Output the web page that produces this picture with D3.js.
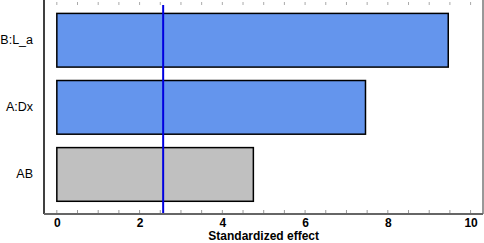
<!DOCTYPE html>
<html>
<head>
<meta charset="utf-8">
<script src="https://cdn.jsdelivr.net/npm/d3@7"></script>
<style>
  body { margin: 0; background: #fff; }
  text { font-family: Arial, "Liberation Sans", sans-serif; }
</style>
</head>
<body>
<div id="chart"></div>
<script>
// Pareto chart of standardized effects
const terms = ['B:L_a', 'A:Dx', 'AB'];
const effects = [9.46, 7.46, 4.75];
const significant = [true, true, false];
const critical = 2.57;
const xTicks = [0, 2, 4, 6, 8, 10];

const width = 484, height = 243;
const plot = {left: 44, right: 483, top: 0, bottom: 214};

const svg = d3.select('#chart')
  .append('svg')
  .attr('width', width)
  .attr('height', height);

const x = d3.scaleLinear().domain([-0.31, 10.3]).range([plot.left, plot.right]);
const y = d3.scaleBand().domain(terms).range([6.7, 208]).paddingInner(0.2).paddingOuter(0.1);

// minor/major tick marks along top and bottom
const minor = d3.range(0, 10.01, 0.5);
svg.append('g')
  .selectAll('line.bt')
  .data(minor)
  .enter()
  .append('line')
  .attr('x1', d => x(d)).attr('x2', d => x(d))
  .attr('y1', plot.bottom - 4).attr('y2', plot.bottom - 1)
  .attr('stroke', '#999').attr('stroke-width', 1);
svg.append('g')
  .selectAll('line.tt')
  .data(minor)
  .enter()
  .append('line')
  .attr('x1', d => x(d)).attr('x2', d => x(d))
  .attr('y1', 2).attr('y2', 5)
  .attr('stroke', '#aaa').attr('stroke-width', 1);

// bars
svg.append('g')
  .selectAll('rect')
  .data(terms)
  .enter()
  .append('rect')
  .attr('x', x(0))
  .attr('y', d => y(d))
  .attr('width', (d, i) => x(effects[i]) - x(0))
  .attr('height', y.bandwidth())
  .attr('fill', (d, i) => significant[i] ? '#6495ed' : '#c0c0c0')
  .attr('stroke', '#000')
  .attr('stroke-width', 1.5);

// reference line
svg.append('line')
  .attr('x1', x(critical)).attr('x2', x(critical))
  .attr('y1', 5).attr('y2', plot.bottom)
  .attr('stroke', '#0000e0').attr('stroke-width', 2);

// frame
svg.append('line')
  .attr('x1', plot.left).attr('x2', plot.left)
  .attr('y1', 0).attr('y2', plot.bottom)
  .attr('stroke', '#000').attr('stroke-width', 1.5);
svg.append('line')
  .attr('x1', plot.right).attr('x2', plot.right)
  .attr('y1', 0).attr('y2', plot.bottom)
  .attr('stroke', '#333').attr('stroke-width', 1);
svg.append('line')
  .attr('x1', plot.left).attr('x2', plot.right)
  .attr('y1', plot.bottom).attr('y2', plot.bottom)
  .attr('stroke', '#666').attr('stroke-width', 2);

// x axis labels
const xAxis = d3.axisBottom(x).tickValues(xTicks).tickSize(0).tickPadding(0);
const gx = svg.append('g')
  .attr('transform', 'translate(0, 226.5)')
  .call(xAxis);
gx.select('.domain').remove();
gx.selectAll('text')
  .attr('y', 0)
  .attr('dy', 0)
  .attr('fill', '#000')
  .style('font-size', '12px')
  .style('font-weight', 'bold');

svg.append('text')
  .attr('x', x(5))
  .attr('y', 240)
  .attr('text-anchor', 'middle')
  .style('font-size', '12px')
  .style('font-weight', 'bold')
  .text('Standardized effect');

// y labels
const yAxis = d3.axisLeft(y).tickSize(0).tickPadding(0);
const gy = svg.append('g')
  .attr('transform', 'translate(33, 0)')
  .call(yAxis);
gy.select('.domain').remove();
gy.selectAll('text')
  .attr('fill', '#000')
  .style('font-size', '12.5px');
</script>
</body>
</html>
